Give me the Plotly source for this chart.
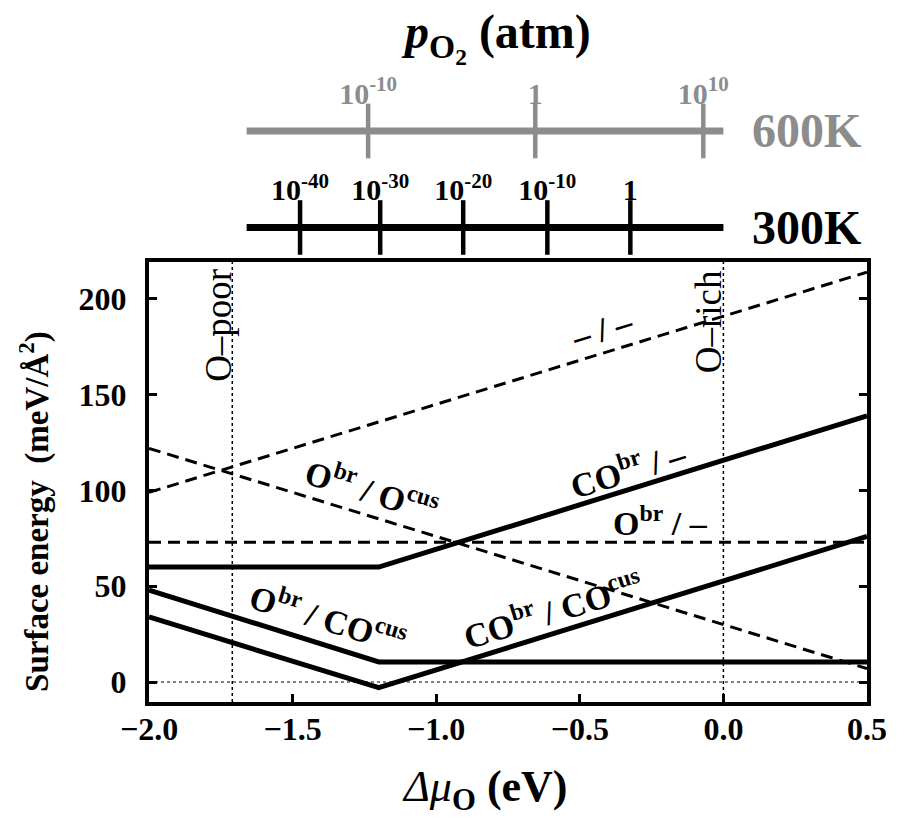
import plotly.graph_objects as go

# surface free energies of RuO2(110) terminations (meV/A^2) vs delta mu_O (eV)
dmu_two = [-2.0, 0.5]
dmu_kink = [-2.0, -1.2, 0.5]
gamma_empty = [99, 214]            # – / –
gamma_obr_ocus = [122, 7]          # Obr / Ocus
gamma_obr_empty = [73, 73]         # Obr / –
gamma_cobr_empty = [60, 60, 139]   # CObr / –
gamma_obr_cocus = [48, 10.5, 10.5]  # Obr / COcus
gamma_cobr_cocus = [34, -3, 76]    # CObr / COcus

dmu_o_poor = -1.71
dmu_o_rich = 0.0

# pressure scales (position in delta mu_O)
scale_span = [-1.66, 0.0]
p600_dmu = [-1.237, -0.655, -0.07]
p600_labels = ["10<sup>-10</sup>", "1", "10<sup>10</sup>"]
p300_dmu = [-1.474, -1.195, -0.906, -0.613, -0.324]
p300_labels = ["10<sup>-40</sup>", "10<sup>-30</sup>", "10<sup>-20</sup>", "10<sup>-10</sup>", "1"]

x_ticks = [-2.0, -1.5, -1.0, -0.5, 0.0, 0.5]
y_ticks = [0, 50, 100, 150, 200]

FONT = "Liberation Serif"
GREY = "#8c8c8c"

fig = go.Figure()

dash = "12px,7px"
for g in [gamma_empty, gamma_obr_ocus, gamma_obr_empty]:
    fig.add_trace(go.Scatter(x=dmu_two, y=g, mode="lines",
                             line=dict(color="black", width=3, dash=dash)))
for g in [gamma_cobr_empty, gamma_obr_cocus, gamma_cobr_cocus]:
    fig.add_trace(go.Scatter(x=dmu_kink, y=g, mode="lines",
                             line=dict(color="black", width=5)))

fig.add_vline(x=dmu_o_poor, line=dict(color="black", width=1.5, dash="dot"))
fig.add_vline(x=dmu_o_rich, line=dict(color="black", width=1.5, dash="dot"))
fig.add_hline(y=0, line=dict(color="black", width=1, dash="dot"))

# pressure scales drawn on a second y axis whose values are the temperature
for T, col, ticks, labels in [(600, GREY, p600_dmu, p600_labels),
                              (300, "black", p300_dmu, p300_labels)]:
    fig.add_trace(go.Scatter(x=scale_span, y=[T, T], mode="lines", yaxis="y2",
                             line=dict(color=col, width=7)))
    fig.add_trace(go.Scatter(x=ticks, y=[T] * len(ticks), mode="markers", yaxis="y2",
                             cliponaxis=False,
                             marker=dict(symbol="line-ns", size=39,
                                         line=dict(color=col, width=4.5))))
    fig.add_trace(go.Scatter(x=ticks, y=[T + 108] * len(ticks), mode="text", yaxis="y2",
                             text=labels, cliponaxis=False,
                             textfont=dict(family=FONT, size=30, color=col, weight="bold")))
    fig.add_annotation(x=0.092, y=T, xref="x", yref="y2", xanchor="left", yanchor="middle",
                       text=f"{T}K", showarrow=False,
                       font=dict(family=FONT, size=48, color=col, weight="bold"))

fig.add_annotation(x=-0.791, y=890, xref="x", yref="y2", showarrow=False,
                   xanchor="center", yanchor="middle",
                   text="<i>p</i><sub>O<sub>2</sub></sub> (atm)",
                   font=dict(family=FONT, size=48, color="black", weight="bold"))

lab = dict(family=FONT, size=34, color="black", weight="bold")
curve_labels = [
    ("– / –", -0.422, 184, -17),
    ("O<sup>br</sup> / O<sup>cus</sup>", -1.223, 101, 17),
    ("CO<sup>br</sup> / –", -0.334, 112, -17),
    ("O<sup>br</sup> / –", -0.22, 84, 0),
    ("O<sup>br</sup> / CO<sup>cus</sup>", -1.376, 34, 17),
    ("CO<sup>br</sup> / CO<sup>cus</sup>", -0.596, 38, -17),
]
for text, x, y, ang in curve_labels:
    fig.add_annotation(x=x, y=y, text=text, textangle=ang, showarrow=False, font=lab)

side = dict(family=FONT, size=37, color="black")
fig.add_annotation(x=-1.756, y=186, text="O–poor", textangle=-90, showarrow=False, font=side)
fig.add_annotation(x=-0.049, y=188, text="O–rich", textangle=-90, showarrow=False, font=side)

# axis titles
fig.add_annotation(x=-0.829, y=-0.1268, xref="x", yref="paper", showarrow=False,
                   xanchor="center", yanchor="middle",
                   text="<span style='font-weight:normal'><i>Δμ</i></span><sub>O</sub> (eV)",
                   font=dict(family=FONT, size=44, color="black", weight="bold"))
fig.add_annotation(x=-0.1588, y=0.2753, xref="paper", yref="paper", showarrow=False,
                   xanchor="center", yanchor="middle", textangle=-90,
                   text="Surface energy&nbsp;&nbsp;(meV/Å<sup>2</sup>)",
                   font=dict(family=FONT, size=33, color="black", weight="bold"))

fig.update_layout(
    width=904, height=828,
    margin=dict(l=141, r=45, t=0, b=134),
    paper_bgcolor="white", plot_bgcolor="white",
    showlegend=False,
    font=dict(family=FONT, color="black"),
    xaxis=dict(range=[-2.0, 0.5], tickvals=x_ticks, tickformat=".1f",
               ticks="inside", ticklen=8, tickwidth=2.5, tickcolor="black",
               showline=True, linewidth=4, linecolor="black", mirror=True,
               showgrid=False, zeroline=False, anchor="y", ticklabelstandoff=-4,
               tickfont=dict(family=FONT, size=32, weight="bold")),
    yaxis=dict(domain=[0, 0.634], range=[-10.44, 219.3], tickvals=y_ticks,
               ticks="inside", ticklen=8, tickwidth=2.5, tickcolor="black",
               showline=True, linewidth=4, linecolor="black", mirror="ticks",
               showgrid=False, zeroline=False, ticklabelstandoff=12,
               tickfont=dict(family=FONT, size=32, weight="bold")),
    yaxis2=dict(domain=[0.645, 1.0], range=[216.4, 982.4], visible=False),
)

fig.write_html("out.html")
